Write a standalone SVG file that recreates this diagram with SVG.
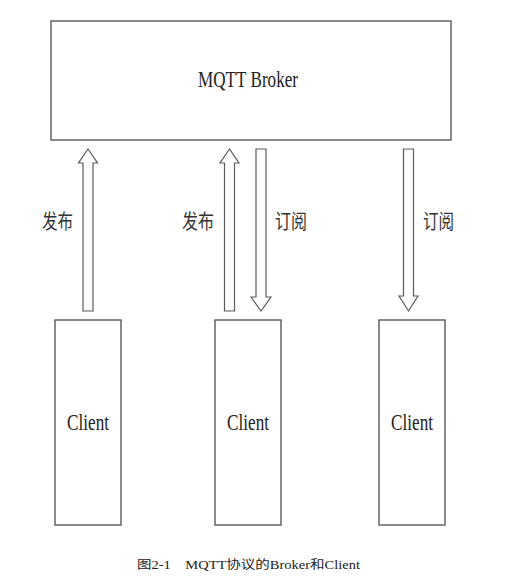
<svg xmlns="http://www.w3.org/2000/svg" width="530" height="586" viewBox="0 0 530 586">
<style>
.box{fill:#fff;stroke:#5a5a5a;stroke-width:1.4}
.arr{fill:#fff;stroke:#5a5a5a;stroke-width:1.2;stroke-linejoin:miter}
.t{font-family:"Liberation Serif","Noto Sans CJK SC",serif;fill:#222}
.lbl{font-family:"Noto Sans CJK SC","Liberation Serif",serif;font-size:20px;fill:#333}
</style>
<rect width="530" height="586" fill="#fff"/>
<g id="broker">
<rect class="box" x="51" y="21" width="400" height="119"/>
<text class="t" x="248" y="87" font-size="23" text-anchor="middle" textLength="100" lengthAdjust="spacingAndGlyphs">MQTT Broker</text>
</g>
<g id="client1">
<rect class="box" x="55" y="320" width="66" height="205"/>
<text class="t" x="88" y="430" font-size="23" text-anchor="middle" textLength="42" lengthAdjust="spacingAndGlyphs">Client</text>
</g>
<g id="client2">
<rect class="box" x="215" y="320" width="66" height="205"/>
<text class="t" x="248" y="430" font-size="23" text-anchor="middle" textLength="42" lengthAdjust="spacingAndGlyphs">Client</text>
</g>
<g id="client3">
<rect class="box" x="379" y="320" width="66" height="205"/>
<text class="t" x="412" y="430" font-size="23" text-anchor="middle" textLength="42" lengthAdjust="spacingAndGlyphs">Client</text>
</g>
<g id="connectors">
<path class="arr" d="M88,149 L97.5,163 L93,163 L93,311 L83,311 L83,163 L78.5,163 Z"/>
<path class="arr" d="M229.5,149 L239,163 L234.5,163 L234.5,311 L224.5,311 L224.5,163 L220,163 Z"/>
<path class="arr" d="M256,149 L266,149 L266,297 L271,297 L261,311 L251,297 L256,297 Z"/>
<path class="arr" d="M403.5,149 L413.5,149 L413.5,296 L418,296 L408.5,311 L399,296 L403.5,296 Z"/>
<text class="lbl" x="42" y="229" textLength="31" lengthAdjust="spacingAndGlyphs">发布</text>
<text class="lbl" x="182" y="229" textLength="32" lengthAdjust="spacingAndGlyphs">发布</text>
<text class="lbl" x="275" y="229" textLength="32" lengthAdjust="spacingAndGlyphs">订阅</text>
<text class="lbl" x="423" y="229" textLength="31" lengthAdjust="spacingAndGlyphs">订阅</text>
</g>
<text class="t" x="137" y="569" font-size="12" textLength="223" lengthAdjust="spacingAndGlyphs" xml:space="preserve">图2-1    MQTT协议的Broker和Client</text>
</svg>
